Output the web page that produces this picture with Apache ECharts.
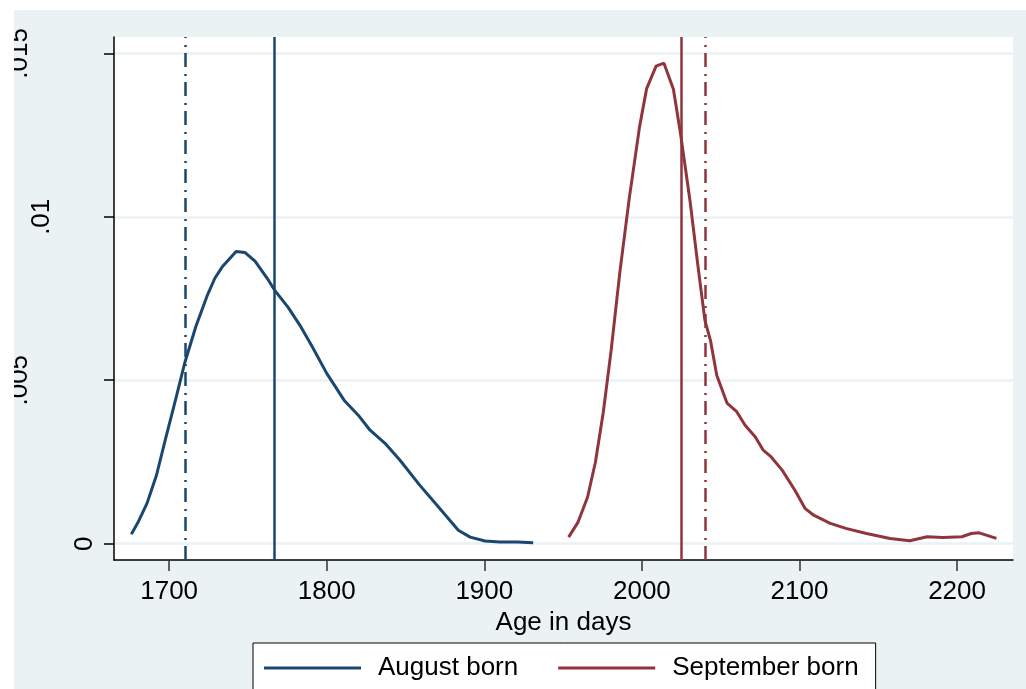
<!DOCTYPE html>
<html>
<head>
<meta charset="utf-8">
<script src="https://cdn.jsdelivr.net/npm/echarts@6/dist/echarts.min.js"></script>
<style>
  html, body { margin: 0; padding: 0; background: #fff; }
  #chart { position: absolute; left: 14px; top: 10px; width: 1012px; height: 679px; overflow: hidden; }
</style>
</head>
<body>
<div id="chart"></div>
<script>
// kernel density, August born
const augX = [1676, 1680, 1686, 1692, 1697.5, 1704, 1710, 1717, 1724, 1729, 1734, 1742.5, 1748, 1754.5, 1763, 1767, 1775.5, 1783, 1791, 1800, 1811, 1820, 1827.5, 1837, 1846.5, 1859, 1872, 1883.5, 1891, 1900.5, 1910, 1921, 1931]
const augY = [0.00029, 0.00063, 0.00124, 0.0021, 0.00317, 0.00439, 0.00555, 0.00665, 0.00757, 0.00812, 0.00849, 0.00894, 0.00891, 0.00864, 0.00806, 0.00775, 0.00723, 0.00668, 0.00601, 0.00521, 0.00439, 0.00393, 0.00347, 0.00307, 0.00255, 0.00179, 0.00106, 0.00041, 0.0002, 0.00008, 0.00005, 0.00005, 0.00003]
// kernel density, September born
const sepX = [1953.5, 1959.5, 1965.5, 1970.5, 1975.5, 1980.5, 1986, 1992, 1998.5, 2003, 2009, 2014, 2020, 2024.5, 2030.5, 2035.5, 2040, 2043.5, 2047.5, 2054, 2060, 2065.5, 2072, 2077, 2081.5, 2089, 2097, 2103.5, 2109, 2119.5, 2130, 2142.5, 2157.5, 2170, 2181, 2191, 2203, 2209, 2214, 2225]
const sepY = [0.0002, 0.00066, 0.00142, 0.00249, 0.00402, 0.00592, 0.0083, 0.01057, 0.01275, 0.01392, 0.01461, 0.0147, 0.0139, 0.01255, 0.0105, 0.00852, 0.00683, 0.00622, 0.00515, 0.0043, 0.00405, 0.00362, 0.00326, 0.00286, 0.00268, 0.00225, 0.00164, 0.00108, 0.00087, 0.00062, 0.00046, 0.00031, 0.00016, 0.00009, 0.00021, 0.00019, 0.00021, 0.00031, 0.00033, 0.00016]
// vertical reference lines: [solid, dash-dot]
const augLines = [1767, 1710]
const sepLines = [2025, 2040]

const xTicks = [1700, 1800, 1900, 2000, 2100, 2200]
const yTicks = [0, 0.005, 0.01, 0.015]
const yTickLabels = ['0', '.005', '.01', '.015']
const seriesNames = ['August born', 'September born']

const navy = '#1a476f'
const maroon = '#90353b'
const dashDot = [14, 6, 2, 7]
const font = 'Liberation Sans, Arial, sans-serif'

function pairs (xs, ys) {
  return xs.map((x, i) => [x, ys[i]])
}

function refLines (vals, color) {
  return {
    silent: true,
    symbol: ['none', 'none'],
    label: { show: false },
    animation: false,
    data: [
      { xAxis: vals[0], lineStyle: { color: color, width: 2.5, type: 'solid' } },
      { xAxis: vals[1], lineStyle: { color: color, width: 2.5, type: dashDot } }
    ]
  }
}

// the y labels sit at different distances from the axis in the original
const yLabelPad = [0, 65, 43, 65]
const yRich = {}
yLabelPad.forEach((p, i) => {
  yRich['r' + i] = { fontSize: 26, fontFamily: font, color: '#000', padding: [0, 0, p, 0] }
})

const chart = echarts.init(document.getElementById('chart'))
chart.setOption({
  animation: false,
  backgroundColor: '#eaf2f3',
  textStyle: { fontFamily: font },
  grid: {
    left: 100,
    top: 27,
    right: 13,
    bottom: 129,
    outerBoundsMode: 'none',
    containLabel: false,
    show: true,
    backgroundColor: '#fff',
    borderWidth: 0
  },
  legend: {
    left: 239,
    top: 633,
    orient: 'horizontal',
    data: seriesNames.map(n => ({ name: n, icon: 'rect' })),
    backgroundColor: '#fff',
    borderColor: '#000',
    borderWidth: 1,
    borderRadius: 0,
    padding: [11, 17, 11, 11],
    itemWidth: 97,
    itemHeight: 3,
    itemGap: 40,
    textStyle: { fontSize: 26, color: '#000', fontFamily: font, padding: [0, 0, 0, 12], lineHeight: 28 }
  },
  xAxis: {
    type: 'value',
    min: 1665,
    max: 2235.5,
    name: 'Age in days',
    nameLocation: 'middle',
    nameGap: 42,
    nameTextStyle: { fontSize: 26, color: '#000', fontFamily: font },
    axisLine: { show: true, onZero: false, lineStyle: { color: '#000', width: 1.5 } },
    axisTick: { show: true, length: 11, customValues: xTicks, lineStyle: { color: '#333', width: 1.5 } },
    axisLabel: {
      customValues: xTicks,
      margin: 19,
      fontSize: 26,
      color: '#000',
      fontFamily: font,
      formatter: v => String(v)
    },
    splitLine: { show: false }
  },
  yAxis: {
    type: 'value',
    min: -0.0005,
    max: 0.0155,
    axisLine: { show: true, onZero: false, lineStyle: { color: '#000', width: 1.5 } },
    axisTick: { show: true, length: 10, customValues: yTicks, lineStyle: { color: '#000', width: 1.5 } },
    axisLabel: {
      customValues: yTicks,
      rotate: 90,
      margin: 16,
      rich: yRich,
      formatter: function (v) {
        let k = 0
        yTicks.forEach((t, i) => { if (Math.abs(t - v) < 1e-9) k = i })
        return '{r' + k + '|' + yTickLabels[k] + '}'
      }
    },
    splitLine: { show: true, lineStyle: { color: '#eaf2f3', width: 2.5 } }
  },
  series: [
    {
      name: seriesNames[0],
      type: 'line',
      data: pairs(augX, augY),
      symbol: 'none',
      smooth: false,
      lineStyle: { color: navy, width: 3 },
      itemStyle: { color: navy },
      markLine: refLines(augLines, navy)
    },
    {
      name: seriesNames[1],
      type: 'line',
      data: pairs(sepX, sepY),
      symbol: 'none',
      smooth: false,
      lineStyle: { color: maroon, width: 3 },
      itemStyle: { color: maroon },
      markLine: refLines(sepLines, maroon)
    }
  ]
})
</script>
</body>
</html>
